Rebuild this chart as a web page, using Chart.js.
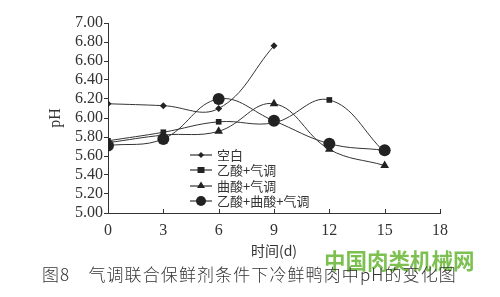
<!DOCTYPE html>
<html><head><meta charset="utf-8">
<script src="https://cdn.jsdelivr.net/npm/chart.js@4"></script>
<style>
html,body{margin:0;padding:0;background:#fff;}
#wrap{position:relative;width:500px;height:297px;overflow:hidden;}
#c{position:absolute;left:0;top:0;}
.leg{position:absolute;left:190px;top:147px;font-family:"Noto Sans CJK SC";font-size:13px;color:#333;line-height:15.3px;}
.leg div{display:flex;align-items:center;height:15.3px;}
.leg svg{margin-right:5px;}
#cap{position:absolute;left:42px;top:261px;font-family:"Noto Sans CJK SC";font-weight:300;font-size:17px;color:#333;white-space:nowrap;letter-spacing:1.1px;}
#wm{position:absolute;left:324px;top:244px;font-family:"Noto Sans CJK SC";font-weight:700;font-size:21.5px;color:#6fba3f;white-space:nowrap;opacity:0.9;}
</style></head>
<body><div id="wrap">
<canvas id="c" width="500" height="297"></canvas>
<div class="leg">
<div><svg width="22" height="10"><line x1="0" y1="5" x2="22" y2="5" stroke="#333" stroke-width="1.2"/><polygon points="11,2 14,5 11,8 8,5" fill="#222"/></svg>空白</div>
<div><svg width="22" height="10"><line x1="0" y1="5" x2="22" y2="5" stroke="#333" stroke-width="1.2"/><rect x="7.5" y="2" width="7" height="6" fill="#222"/></svg>乙酸+气调</div>
<div><svg width="22" height="10"><line x1="0" y1="6" x2="22" y2="6" stroke="#333" stroke-width="1.2"/><polygon points="11,1.5 15,8 7,8" fill="#222"/></svg>曲酸+气调</div>
<div><svg width="22" height="12"><line x1="0" y1="6" x2="22" y2="6" stroke="#333" stroke-width="1.2"/><circle cx="11" cy="6" r="5" fill="#222"/></svg>乙酸+曲酸+气调</div>
</div>
<div id="wm">中国肉类机械网</div>
<div id="cap">图8　气调联合保鲜剂条件下冷鲜鸭肉中pH的变化图</div>
</div>
<script>
const days = [0, 3, 6, 9, 12, 15];
const blank = [6.15, 6.13, 6.10, 6.76, null, null];
const aceticMAP = [5.76, 5.85, 5.96, 5.95, 6.19, 5.64];
const kojicMAP = [5.74, 5.82, 5.86, 6.15, 5.67, 5.50];
const bothMAP = [5.71, 5.78, 6.20, 5.97, 5.73, 5.66];
const seriesNames = ['空白', '乙酸+气调', '曲酸+气调', '乙酸+曲酸+气调'];
const yTicks = [5.0, 5.2, 5.4, 5.6, 5.8, 6.0, 6.2, 6.4, 6.6, 6.8, 7.0];
const xTicks = [0, 3, 6, 9, 12, 15, 18];

function pts(vals){ return days.map((d,i)=>({x:d,y:vals[i]})).filter(p=>p.y!==null); }
const styles = [
  {pointStyle:'rectRot', radius:3.5},
  {pointStyle:'rect', radius:4},
  {pointStyle:'triangle', radius:5},
  {pointStyle:'circle', radius:6}
];
const allVals = [blank, aceticMAP, kojicMAP, bothMAP];
const datasets = allVals.map((v,i)=>({
  label: seriesNames[i],
  data: pts(v),
  borderColor:'#333',
  backgroundColor:'#222',
  borderWidth:1,
  pointBackgroundColor:'#222',
  pointBorderColor:'#222',
  pointBorderWidth:0,
  pointStyle: styles[i].pointStyle,
  pointRadius: styles[i].radius,
  tension:0.4,
  fill:false
}));
const serif = 'Liberation Serif';
const innerTicks = {
  id:'innerTicks',
  afterDraw(chart){
    const s = chart.scales.x, ctx = chart.ctx, y0 = chart.chartArea.bottom;
    ctx.save(); ctx.strokeStyle='#333'; ctx.lineWidth=1;
    s.ticks.forEach(t=>{
      const px = Math.round(s.getPixelForValue(t.value))+0.5;
      ctx.beginPath(); ctx.moveTo(px,y0); ctx.lineTo(px,y0-4); ctx.stroke();
    });
    ctx.restore();
  }
};
new Chart(document.getElementById('c'), {
  type:'line',
  data:{datasets},
  plugins:[innerTicks],
  options:{
    responsive:false, animation:false,
    layout:{padding:{left:44,right:60,top:23,bottom:34}},
    plugins:{legend:{display:false},tooltip:{enabled:false}},
    scales:{
      x:{type:'linear',min:0,max:18,
        afterBuildTicks:s=>{s.ticks=xTicks.map(v=>({value:v}));},
        afterFit:s=>{s.height=50;},
        ticks:{font:{family:serif,size:16},color:'#333',padding:8,autoSkip:false,maxRotation:0},
        grid:{drawOnChartArea:false,drawTicks:false,color:'#333'},
        border:{display:true,color:'#333',width:1},
        title:{display:true,text:'时间(d)',font:{family:'Noto Sans CJK SC',size:14},color:'#333',padding:{top:2,bottom:4}}
      },
      y:{type:'linear',min:5,max:7,
        afterBuildTicks:s=>{s.ticks=yTicks.map(v=>({value:v}));},
        afterFit:s=>{s.width=64;},
        ticks:{font:{family:serif,size:16},color:'#333',padding:1,autoSkip:false,callback:v=>Number(v).toFixed(2)},
        grid:{drawOnChartArea:false,drawTicks:true,tickLength:4,color:'#333'},
        border:{display:true,color:'#333',width:1},
        title:{display:true,text:'pH',font:{family:serif,size:16},color:'#333',padding:{top:2,bottom:0}}
      }
    }
  }
});
</script>
</body></html>
